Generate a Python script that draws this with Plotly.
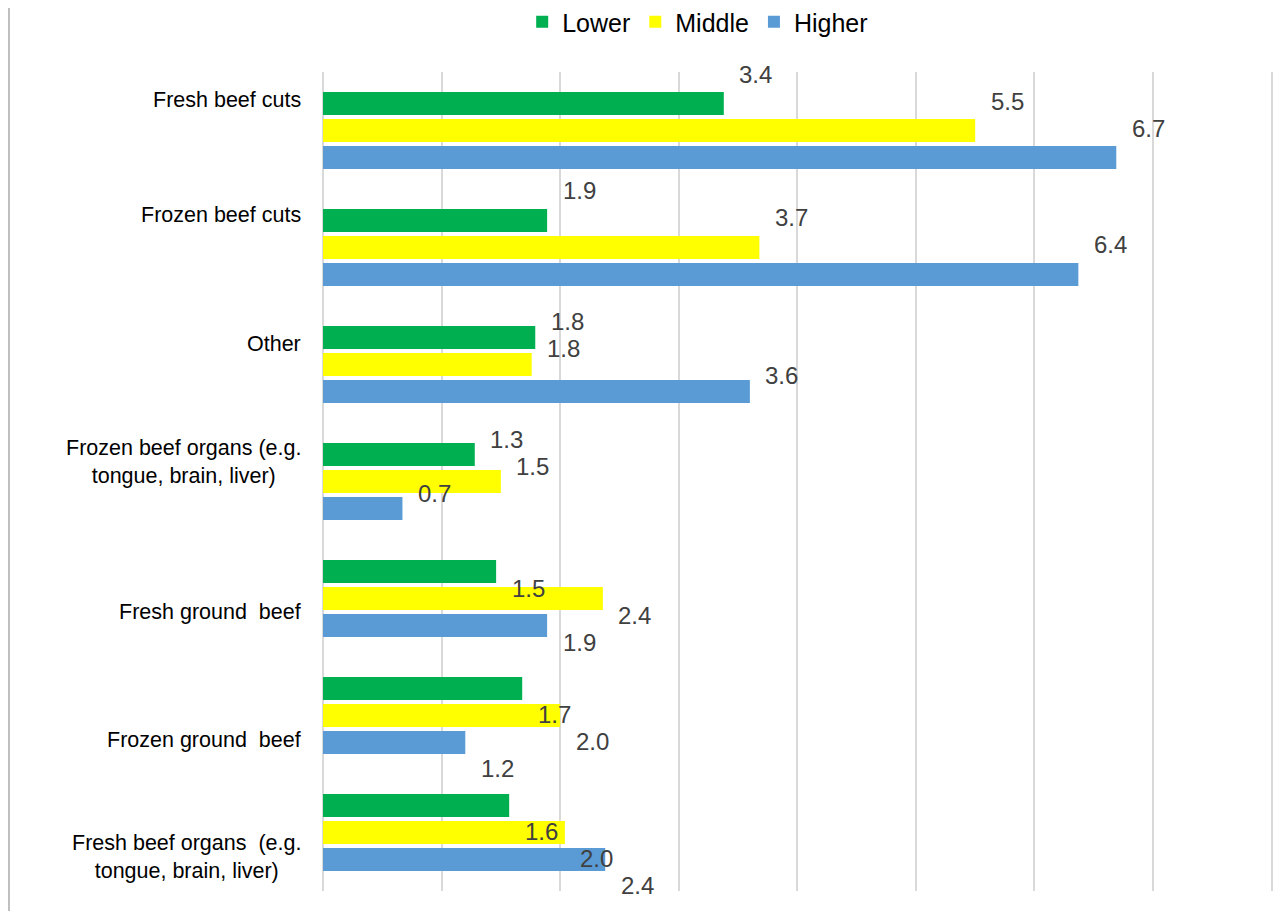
import plotly.graph_objects as go

# ---- data ----
categories = [
    "Fresh beef cuts",
    "Frozen beef cuts",
    "Other",
    "Frozen beef organs (e.g.<br>tongue, brain, liver)",
    "Fresh ground  beef",
    "Frozen ground  beef",
    "Fresh beef organs  (e.g.<br>tongue, brain, liver)",
]
series_names = ["Lower", "Middle", "Higher"]
lower = [3.38, 1.89, 1.79, 1.28, 1.46, 1.68, 1.57]
middle = [5.50, 3.68, 1.76, 1.50, 2.36, 2.00, 2.04]
higher = [6.69, 6.37, 3.60, 0.67, 1.89, 1.20, 2.38]

# ---- styling / layout helpers ----
colors = ["#00B050", "#FFFF00", "#5B9BD5"]
FONT = "Liberation Sans, Arial, sans-serif"
BARGAP = 0.308
BARGROUPGAP = 0.148
# per-category vertical drift of the value labels and category labels (px, + = up)
value_label_shift = [29, 30, 16, 15, -17, -26, -26]
cat_label_shift = [31, 33, 21, 20, -13, -24, -24]

series = [lower, middle, higher]
idx = list(range(len(categories)))

fig = go.Figure()
for name, vals, col in zip(series_names, series, colors):
    fig.add_trace(go.Bar(
        y=idx, x=vals, name=name, orientation="h",
        marker=dict(color=col, line=dict(width=0)),
        hoverinfo="x+name",
    ))

annotations = []
pitch = (1 - BARGAP) / len(series)
for s, vals in enumerate(series):
    off = (s - 1) * pitch
    for i, v in enumerate(vals):
        annotations.append(dict(
            x=v, y=i + off, xref="x", yref="y",
            text=f"{v:.1f}", showarrow=False,
            xanchor="center", xshift=32, yshift=value_label_shift[i],
            font=dict(family=FONT, size=24, color="#404040"),
        ))

for i, c in enumerate(categories):
    annotations.append(dict(
        x=0, y=i, xref="paper", yref="y", text=c, showarrow=False,
        xanchor="right", xshift=-20, yshift=cat_label_shift[i], align="center",
        font=dict(family=FONT, size=21.5, color="#000000"),
    ))

fig.update_layout(
    width=1269, height=903,
    margin=dict(l=315, r=3, t=64, b=20, autoexpand=False),
    paper_bgcolor="white", plot_bgcolor="white",
    barmode="group", bargap=BARGAP, bargroupgap=BARGROUPGAP,
    font=dict(family=FONT, color="#000000"),
    showlegend=True,
    legend=dict(
        orientation="h", x=0.394, xanchor="center", y=1.061, yanchor="middle",
        font=dict(family=FONT, size=25, color="#000000"),
        traceorder="normal", itemwidth=30,
    ),
    annotations=annotations,
    shapes=[dict(type="line", xref="paper", yref="paper",
                 x0=-0.3302, x1=-0.3302, y0=-0.1, y1=1.2,
                 line=dict(color="#BFBFBF", width=2))],
)
fig.update_xaxes(
    range=[0, 8.02], dtick=1, tick0=0, showgrid=True, gridcolor="#D9D9D9", gridwidth=2,
    zeroline=True, zerolinecolor="#D9D9D9", zerolinewidth=2,
    showticklabels=False, ticks="", showline=False,
)
fig.update_yaxes(
    range=[6.5, -0.5], showticklabels=False, ticks="", showgrid=False,
    zeroline=False, showline=False, tickmode="array", tickvals=idx,
)

fig.write_html("out.html")
